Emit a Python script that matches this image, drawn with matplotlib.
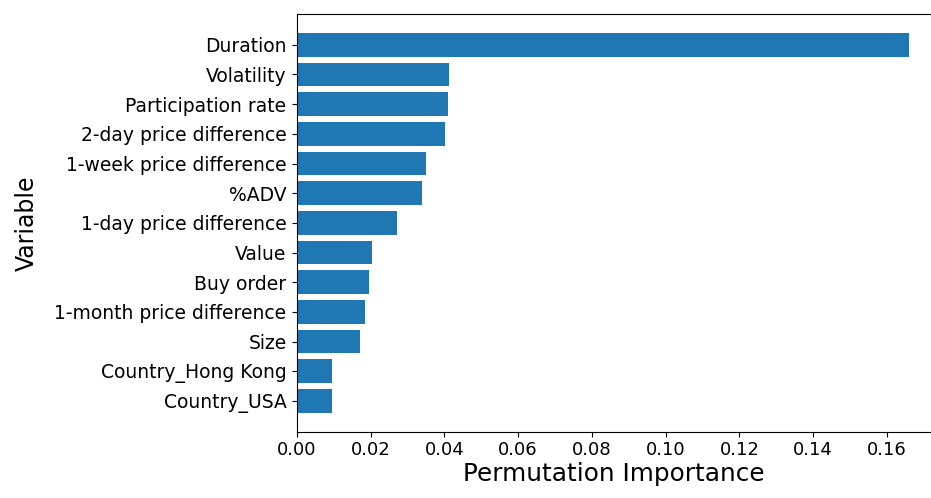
import matplotlib
matplotlib.use('Agg')
import matplotlib.pyplot as plt

# permutation importance per feature, most important first
variables = ['Duration', 'Volatility', 'Participation rate', '2-day price difference',
             '1-week price difference', '%ADV', '1-day price difference', 'Value',
             'Buy order', '1-month price difference', 'Size', 'Country_Hong Kong',
             'Country_USA']
importance = [0.166, 0.0412, 0.041, 0.0401, 0.035, 0.0339, 0.0271, 0.0203,
              0.0195, 0.0184, 0.0171, 0.0095, 0.0095]

fig = plt.figure(figsize=(9.31, 4.98), dpi=100)
ax = fig.add_axes([0.319, 0.133, 0.681, 0.839])

ax.barh(variables[::-1], importance[::-1], color='#1f77b4', height=0.8)
ax.set_xlim(0, 0.172)
ax.set_xticks([0, 0.02, 0.04, 0.06, 0.08, 0.10, 0.12, 0.14, 0.16])
ax.tick_params(axis='y', labelsize=13.5, pad=4)
ax.tick_params(axis='x', labelsize=13, pad=3)
ax.spines['right'].set_visible(False)

ax.set_xlabel('Permutation Importance', fontsize=17.8, labelpad=2)
ax.set_ylabel('Variable', fontsize=17, labelpad=11)

fig.savefig('out.png', dpi=100)
